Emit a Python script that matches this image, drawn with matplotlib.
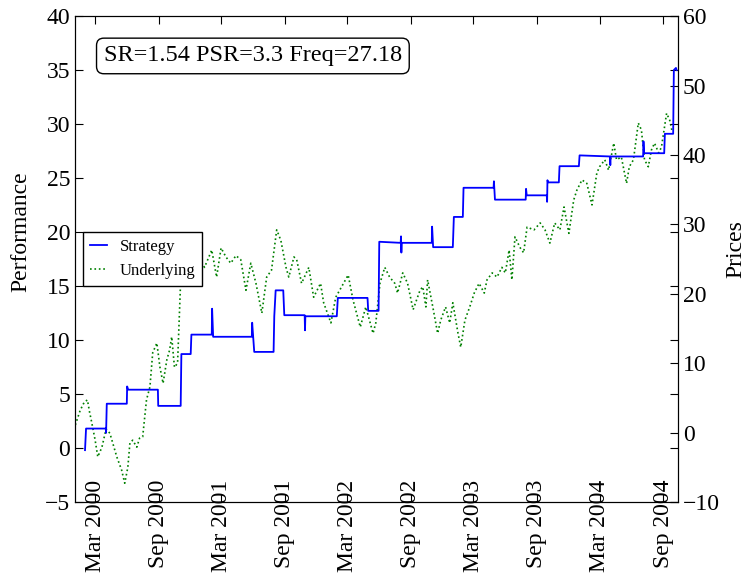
"""Strategy performance vs underlying price, twin y axes."""

import matplotlib
matplotlib.use('Agg')

import matplotlib.pyplot as plt
import matplotlib.dates as mdates
import pandas as pd

plt.rcParams['font.family'] = ['Liberation Serif', 'DejaVu Serif']

# Strategy cumulative performance (left axis), step path with spikes
strategy_dates = [
    "2000-02-01", "2000-02-04", "2000-04-01", "2000-04-02", "2000-04-04",
    "2000-06-01", "2000-06-02", "2000-06-05", "2000-08-30", "2000-08-31",
    "2000-11-04", "2000-11-06", "2000-12-03", "2000-12-05", "2001-02-02",
    "2001-02-03", "2001-02-06", "2001-05-29", "2001-05-30", "2001-06-05",
    "2001-07-31", "2001-08-02", "2001-08-06", "2001-08-28", "2001-08-31",
    "2001-10-29", "2001-10-30", "2001-10-31", "2002-01-30", "2002-02-02",
    "2002-04-29", "2002-05-01", "2002-05-31", "2002-06-02", "2002-08-03",
    "2002-08-04", "2002-08-05", "2002-08-06", "2002-11-01", "2002-11-02",
    "2002-11-05", "2003-01-01", "2003-01-04", "2003-01-30", "2003-02-01",
    "2003-04-29", "2003-04-30", "2003-05-03", "2003-07-31", "2003-08-01",
    "2003-08-03", "2003-09-30", "2003-10-01", "2003-10-02", "2003-10-04",
    "2003-11-04", "2003-11-06", "2004-01-01", "2004-01-03", "2004-03-31",
    "2004-04-01", "2004-04-02", "2004-07-05", "2004-07-06", "2004-07-08",
    "2004-09-04", "2004-09-06", "2004-09-30", "2004-10-02", "2004-10-08",
    "2004-10-10",
]
strategy_values = [
    -0.2, 1.8, 1.8, 1.4, 4.1,
    4.1, 5.7, 5.4, 5.4, 3.9,
    3.9, 8.7, 8.7, 10.5, 10.5,
    12.9, 10.3, 10.3, 11.6, 8.9,
    8.9, 12.2, 14.6, 14.6, 12.3,
    12.3, 10.9, 12.2, 12.2, 13.9,
    13.9, 12.7, 12.7, 19.1, 19.0,
    19.6, 18.1, 19.0, 19.0, 20.5,
    18.6, 18.6, 21.4, 21.4, 24.1,
    24.1, 24.7, 23.0, 23.0, 24.0,
    23.4, 23.4, 22.8, 24.8, 24.6,
    24.6, 26.1, 26.1, 27.1, 27.0,
    26.2, 27.0, 27.0, 28.4, 27.3,
    27.3, 29.1, 29.1, 35.0, 35.2,
    35.0,
]

# Underlying price (right axis)
underlying_dates = [
    "2000-01-04", "2000-01-18", "2000-01-30", "2000-02-08", "2000-02-14",
    "2000-02-19", "2000-03-01", "2000-03-09", "2000-03-21", "2000-04-02",
    "2000-04-13", "2000-05-03", "2000-05-17", "2000-05-26", "2000-06-04",
    "2000-06-10", "2000-06-18", "2000-06-30", "2000-07-08", "2000-07-17",
    "2000-07-28", "2000-08-07", "2000-08-15", "2000-08-27", "2000-09-05",
    "2000-09-14", "2000-09-25", "2000-10-03", "2000-10-09", "2000-10-17",
    "2000-10-26", "2000-11-04", "2000-11-16", "2000-11-30", "2000-12-14",
    "2000-12-28", "2001-01-12", "2001-02-02", "2001-02-16", "2001-03-01",
    "2001-03-15", "2001-03-29", "2001-04-13", "2001-04-27", "2001-05-12",
    "2001-05-26", "2001-06-10", "2001-06-27", "2001-07-11", "2001-07-25",
    "2001-08-09", "2001-08-21", "2001-09-05", "2001-09-13", "2001-09-28",
    "2001-10-06", "2001-10-20", "2001-11-10", "2001-11-24", "2001-12-14",
    "2001-12-23", "2002-01-07", "2002-01-13", "2002-01-27", "2002-02-13",
    "2002-03-04", "2002-03-18", "2002-04-08", "2002-04-24", "2002-05-15",
    "2002-05-23", "2002-06-04", "2002-06-18", "2002-07-02", "2002-07-17",
    "2002-07-25", "2002-08-09", "2002-08-23", "2002-09-08", "2002-09-28",
    "2002-10-06", "2002-10-15", "2002-10-20", "2002-11-04", "2002-11-18",
    "2002-11-27", "2002-12-11", "2002-12-23", "2003-01-01", "2003-01-16",
    "2003-01-24", "2003-02-05", "2003-02-19", "2003-03-04", "2003-03-18",
    "2003-04-02", "2003-04-10", "2003-04-25", "2003-05-09", "2003-05-23",
    "2003-06-02", "2003-06-13", "2003-06-21", "2003-06-30", "2003-07-14",
    "2003-07-25", "2003-08-04", "2003-08-24", "2003-09-11", "2003-09-25",
    "2003-10-09", "2003-10-23", "2003-11-07", "2003-11-19", "2003-12-03",
    "2003-12-17", "2003-12-26", "2004-01-10", "2004-01-24", "2004-02-08",
    "2004-02-22", "2004-03-01", "2004-03-16", "2004-03-27", "2004-04-11",
    "2004-04-19", "2004-05-03", "2004-05-18", "2004-05-26", "2004-06-07",
    "2004-06-21", "2004-06-30", "2004-07-09", "2004-07-20", "2004-07-29",
    "2004-08-07", "2004-08-19", "2004-08-27", "2004-09-11", "2004-09-20",
    "2004-09-26",
]
underlying_values = [
    1.1, 3.2, 4.4, 4.7, 3.0,
    1.8, -1.0, -3.5, -2.1, 0.5,
    -0.1, -3.5, -5.4, -7.3, -5.0,
    -1.5, -1.1, -2.1, -0.8, -0.6,
    4.7, 6.6, 11.5, 12.9, 9.4,
    7.1, 10.5, 11.9, 13.8, 9.4,
    10.0, 22.0, 21.5, 23.4, 22.4,
    25.0, 23.8, 26.3, 22.4, 26.6,
    25.3, 24.4, 25.5, 24.9, 20.5,
    24.4, 21.5, 17.2, 22.4, 23.4,
    29.2, 27.7, 23.8, 22.4, 25.3,
    24.9, 21.5, 23.8, 19.5, 21.5,
    18.7, 16.6, 15.8, 19.5, 21.0,
    22.7, 19.1, 15.2, 18.1, 14.3,
    15.8, 21.5, 23.8, 22.4, 21.5,
    20.1, 23.0, 21.5, 17.7, 20.5,
    21.0, 18.1, 22.0, 18.1, 14.3,
    16.2, 18.1, 15.8, 18.7, 14.3,
    12.3, 16.2, 18.1, 20.1, 21.5,
    20.1, 22.0, 23.0, 22.4, 23.8,
    23.0, 26.3, 22.0, 28.2, 26.7,
    25.9, 29.6, 29.2, 30.2, 29.2,
    27.3, 30.2, 29.2, 32.5, 28.7,
    33.5, 34.9, 36.4, 35.9, 32.8,
    37.4, 38.3, 39.3, 37.8, 41.7,
    39.3, 39.7, 35.9, 38.3, 39.3,
    44.6, 43.6, 39.3, 38.3, 40.7,
    41.7, 40.3, 41.1, 46.0, 45.0,
    43.6,
]

stats_text = "SR=1.54 PSR=3.3 Freq=27.18"

strat = pd.Series(strategy_values, index=pd.to_datetime(strategy_dates))
under = pd.Series(underlying_values, index=pd.to_datetime(underlying_dates))

fig = plt.figure(figsize=(7.53, 5.75), dpi=100)
ax = fig.add_axes([0.0996, 0.127, 0.8008, 0.845])
ax2 = ax.twinx()

l1, = ax.plot(strat.index, strat.values, color='b', lw=1.3, label='Strategy')
l2, = ax2.plot(under.index, under.values, color='g', lw=1.2, ls=':', label='Underlying')

ax.set_xlim(pd.Timestamp("2000-01-03"), pd.Timestamp("2004-10-14"))
ax.set_ylim(-5, 40)
ax.set_yticks(range(-5, 41, 5))
ax2.set_ylim(-10, 60)
ax2.set_yticks(range(-10, 61, 10))

ax.xaxis.set_major_locator(mdates.MonthLocator(bymonth=[3, 9]))
ax.xaxis.set_major_formatter(mdates.DateFormatter('%b %Y'))

ax.tick_params(axis='both', direction='in', length=6, labelsize=17,
               top=True, right=True)
ax.tick_params(axis='x', pad=-16)
for lab in ax.get_xticklabels():
    lab.set_rotation(90)
ax2.tick_params(axis='y', direction='in', length=6, labelsize=17,
                left=False, right=True)

ax.set_ylabel('Performance', fontsize=17)
ax.yaxis.set_label_coords(-0.072, 0.556)
ax2.set_ylabel('Prices', fontsize=17)
ax2.yaxis.set_label_coords(1.078, 0.52)

ax.text(0.295, 0.918, stats_text, transform=ax.transAxes, fontsize=17.5,
        ha='center', va='center',
        bbox=dict(boxstyle='round,pad=0.3', fc='white', ec='black', lw=1))

leg = ax.legend([l1, l2], ['Strategy', 'Underlying'], loc='center left',
                fontsize=12, handlelength=1.0, fancybox=False,
                framealpha=1, edgecolor='black', borderaxespad=0.5)
leg.get_frame().set_linewidth(1.0)
leg.set_zorder(5)
ax.set_zorder(ax2.get_zorder() + 1)
ax.patch.set_visible(False)

fig.savefig('out.png', dpi=100)
